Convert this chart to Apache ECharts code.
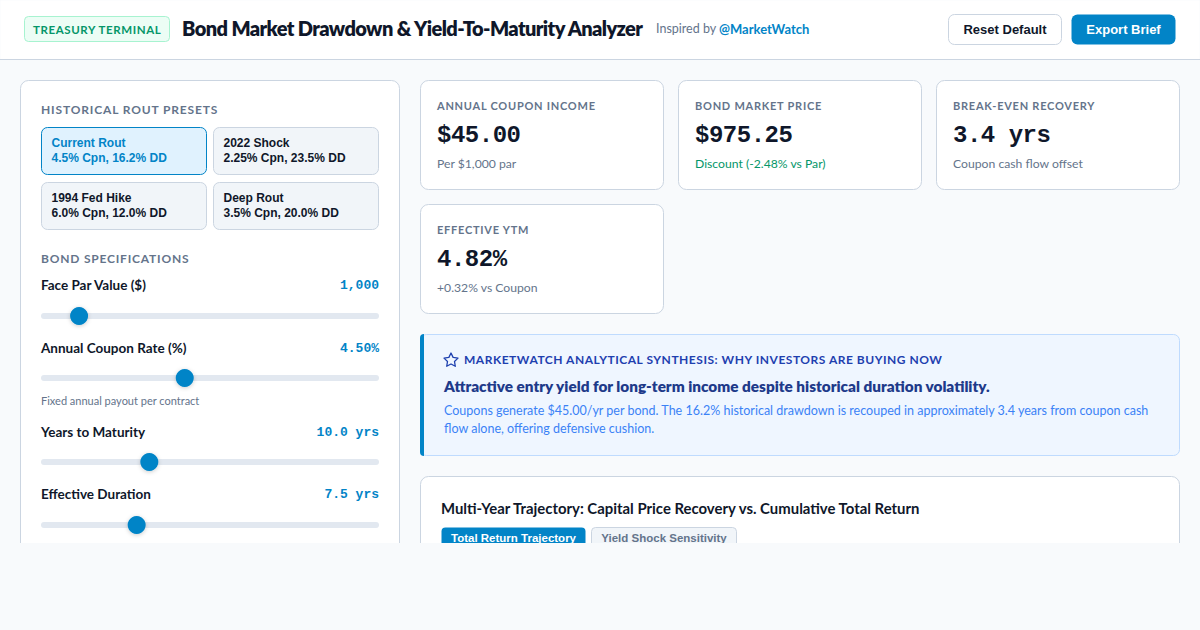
<!DOCTYPE html>
<html>
<head>
<meta charset="utf-8">
<title>Bond Market Drawdown</title>
<script src="https://cdn.jsdelivr.net/npm/echarts@6/dist/echarts.min.js"></script>
<style>
  * { margin: 0; padding: 0; box-sizing: border-box; }
  html, body { background: #f8fafc; overflow: hidden; }
  #main { width: 1200px; height: 630px; }
</style>
</head>
<body>
<div id="main"></div>
<script>
// presets
var presetNames = ['Current Rout', '2022 Shock', '1994 Fed Hike', 'Deep Rout'];
var presetDetails = ['4.5% Cpn, 16.2% DD', '2.25% Cpn, 23.5% DD', '6.0% Cpn, 12.0% DD', '3.5% Cpn, 20.0% DD'];

// bond sliders
var sliderLabels = ['Face Par Value ($)', 'Annual Coupon Rate (%)', 'Years to Maturity', 'Effective Duration'];
var sliderValues = [1000, 4.5, 10, 7.5];
var sliderMin = [100, 0.5, 1, 1];
var sliderMax = [10000, 10, 30, 25];
var sliderReadouts = ['1,000', '4.50%', '10.0 yrs', '7.5 yrs'];

// metric cards
var metricLabels = ['ANNUAL COUPON INCOME', 'BOND MARKET PRICE', 'BREAK-EVEN RECOVERY', 'EFFECTIVE YTM'];
var metricValues = ['$45.00', '$975.25', '3.4 yrs', '4.82%'];
var metricNotes = ['Per $1,000 par', 'Discount (-2.48% vs Par)', 'Coupon cash flow offset', '+0.32% vs Coupon'];

var SANS = 'Lato, sans-serif';
var ARIAL = '"Liberation Sans", Arial, sans-serif';
var MONO = '"Liberation Mono", monospace';
var BLUE = '#0284c7';
var LINE = '#cbd5e1';

var els = [];
var spaced = {};

function box(x, y, w, h, r, fill, stroke) {
  els.push({ type: 'rect', z: 1, shape: { x: x + 0.5, y: y + 0.5, width: w - 1, height: h - 1, r: r },
    style: { fill: fill, stroke: stroke || null, lineWidth: 1 } });
}
function txt(x, y, s, size, weight, color, family, align, track) {
  els.push({ type: 'text', z: 2, x: x, y: y, style: {
    text: s, fill: color, font: weight + ' ' + size + 'px ' + (family || SANS),
    textAlign: align || 'left', textVerticalAlign: 'middle' } });
  if (track) spaced[s] = track;
}

// header
box(0, 0, 1200, 60, 0, '#ffffff');
els.push({ type: 'rect', z: 1, shape: { x: 0, y: 59, width: 1200, height: 1 }, style: { fill: LINE } });
box(24, 16, 146, 26, 4, '#ecfdf5', '#a7f3d0');
txt(33, 29, 'TREASURY TERMINAL', 11.5, 700, '#059669', SANS, 'left', '0.6px');
txt(182, 28, 'Bond Market Drawdown & Yield-To-Maturity Analyzer', 20, 800, '#0f172a', SANS, 'left', '-0.6px');
txt(656, 28.5, 'Inspired by', 12.5, 400, '#64748b');
txt(719, 28.5, '@MarketWatch', 13, 700, BLUE);
box(948, 14, 114, 31, 6, '#ffffff', LINE);
txt(1005, 29.5, 'Reset Default', 13, 600, '#0f172a', ARIAL, 'center');
box(1071, 14, 105, 31, 6, BLUE);
txt(1123.5, 29.5, 'Export Brief', 13, 600, '#ffffff', ARIAL, 'center');

// left panel
box(20, 80, 380, 480, 8, '#ffffff', LINE);
txt(41, 109.5, 'HISTORICAL ROUT PRESETS', 12, 700, '#64748b', SANS, 'left', '0.85px');
var presetX = [41, 213], presetY = [127, 182];
presetNames.forEach(function (name, i) {
  var x = presetX[i % 2], y = presetY[i >> 1], on = i === 0;
  box(x, y, 166, 48, 6, on ? '#e0f2fe' : '#f1f5f9', on ? BLUE : LINE);
  txt(x + 10.5, y + 16, name, 12, 600, on ? BLUE : '#0f172a', ARIAL);
  txt(x + 10.5, y + 31, presetDetails[i], 12, 600, on ? BLUE : '#0f172a', ARIAL);
});
txt(41, 258, 'BOND SPECIFICATIONS', 12, 700, '#64748b', SANS, 'left', '0.8px');

var labelY = [285, 348, 432, 494], trackY = [316, 378, 462, 525];
var grids = [], xAxes = [], yAxes = [], series = [];
sliderLabels.forEach(function (label, i) {
  txt(41, labelY[i], label, 13.5, 700, '#0f172a');
  txt(379, labelY[i], sliderReadouts[i], 13, 700, BLUE, MONO, 'right');
  els.push({ type: 'rect', z: 1, shape: { x: 41, y: trackY[i] - 3, width: 338, height: 6, r: 3 }, style: { fill: '#e2e8f0' } });
  grids.push({ left: 50, width: 320, top: trackY[i] - 1, height: 2 });
  xAxes.push({ type: 'value', gridIndex: i, min: sliderMin[i], max: sliderMax[i], show: false });
  yAxes.push({ type: 'value', gridIndex: i, min: 0, max: 1, show: false });
  series.push({ type: 'scatter', xAxisIndex: i, yAxisIndex: i, z: 5, clip: false, silent: true,
    symbolSize: 18, data: [[sliderValues[i], 0.5]],
    itemStyle: { color: BLUE, opacity: 1, shadowBlur: 4, shadowColor: 'rgba(0,0,0,0.2)', shadowOffsetY: 1 } });
});
txt(41, 400.5, 'Fixed annual payout per contract', 11, 400, '#64748b');
txt(41, 547.5, 'Modified duration price sensitivity to rates', 11, 400, '#64748b');

// metric cards
var cardX = [420, 678, 936, 420], cardY = [80, 80, 80, 204];
metricLabels.forEach(function (label, i) {
  var x = cardX[i], y = cardY[i];
  box(x, y, 244, 110, 8, '#ffffff', LINE);
  txt(x + 17, y + 25.5, label, 11, 700, '#64748b', SANS, 'left', '0.75px');
  txt(x + 17, y + 55, metricValues[i], 24, 700, '#0f172a', MONO, 'left', '-0.48px');
  txt(x + 17, y + 83.5, metricNotes[i], 12.2, 400, i === 1 ? '#059669' : '#64748b');
});

// insight
box(420, 334, 760, 122, 6, '#eff6ff', '#bfdbfe');
els.push({ type: 'rect', z: 1, shape: { x: 420, y: 334, width: 4, height: 122, r: [6, 0, 0, 6] }, style: { fill: BLUE } });
var starPoints = [[451, 353], [453.1, 357.4], [458, 358.1], [454.5, 361.5], [455.3, 366.3], [451, 364], [446.7, 366.3], [447.5, 361.5], [444, 358.1], [448.9, 357.4]];
els.push({ type: 'polygon', z: 2, shape: { points: starPoints },
  style: { fill: 'none', stroke: '#1e40af', lineWidth: 1.3, lineJoin: 'round' } });
txt(464, 359.5, 'MARKETWATCH ANALYTICAL SYNTHESIS: WHY INVESTORS ARE BUYING NOW', 12, 700, '#1e40af', SANS, 'left', '0.52px');
txt(444, 385.5, 'Attractive entry yield for long-term income despite historical duration volatility.', 15.3, 800, '#1e3a8a');
txt(444, 410.5, 'Coupons generate $45.00/yr per bond. The 16.2% historical drawdown is recouped in approximately 3.4 years from coupon cash', 12.53, 400, '#3b82f6');
txt(444, 428.5, 'flow alone, offering defensive cushion.', 12.53, 400, '#3b82f6');

// trajectory card, cut off at the fold
box(420, 476, 760, 120, 8, '#ffffff', LINE);
txt(441, 508, 'Multi-Year Trajectory: Capital Price Recovery vs. Cumulative Total Return', 14.9, 700, '#0f172a');
box(441, 527, 145, 30, 4, BLUE);
txt(513.5, 538, 'Total Return Trajectory', 11.5, 600, '#ffffff', ARIAL, 'center');
box(591, 527, 146, 30, 4, '#f1f5f9', LINE);
txt(664, 538, 'Yield Shock Sensitivity', 11.5, 600, '#64748b', ARIAL, 'center');

// everything below the fold is hidden in the source page
els.push({ type: 'rect', z: 50, shape: { x: 0, y: 543, width: 1200, height: 87 }, style: { fill: '#f8fafc' } });

var chart = echarts.init(document.getElementById('main'), null, { renderer: 'svg' });
chart.setOption({
  animation: false,
  backgroundColor: '#f8fafc',
  graphic: { elements: els },
  grid: grids,
  xAxis: xAxes,
  yAxis: yAxes,
  series: series
});

// zrender has no letter spacing, so put it on the svg text afterwards
document.querySelectorAll('#main text').forEach(function (t) {
  if (spaced[t.textContent]) t.style.letterSpacing = spaced[t.textContent];
});
</script>
</body>
</html>
